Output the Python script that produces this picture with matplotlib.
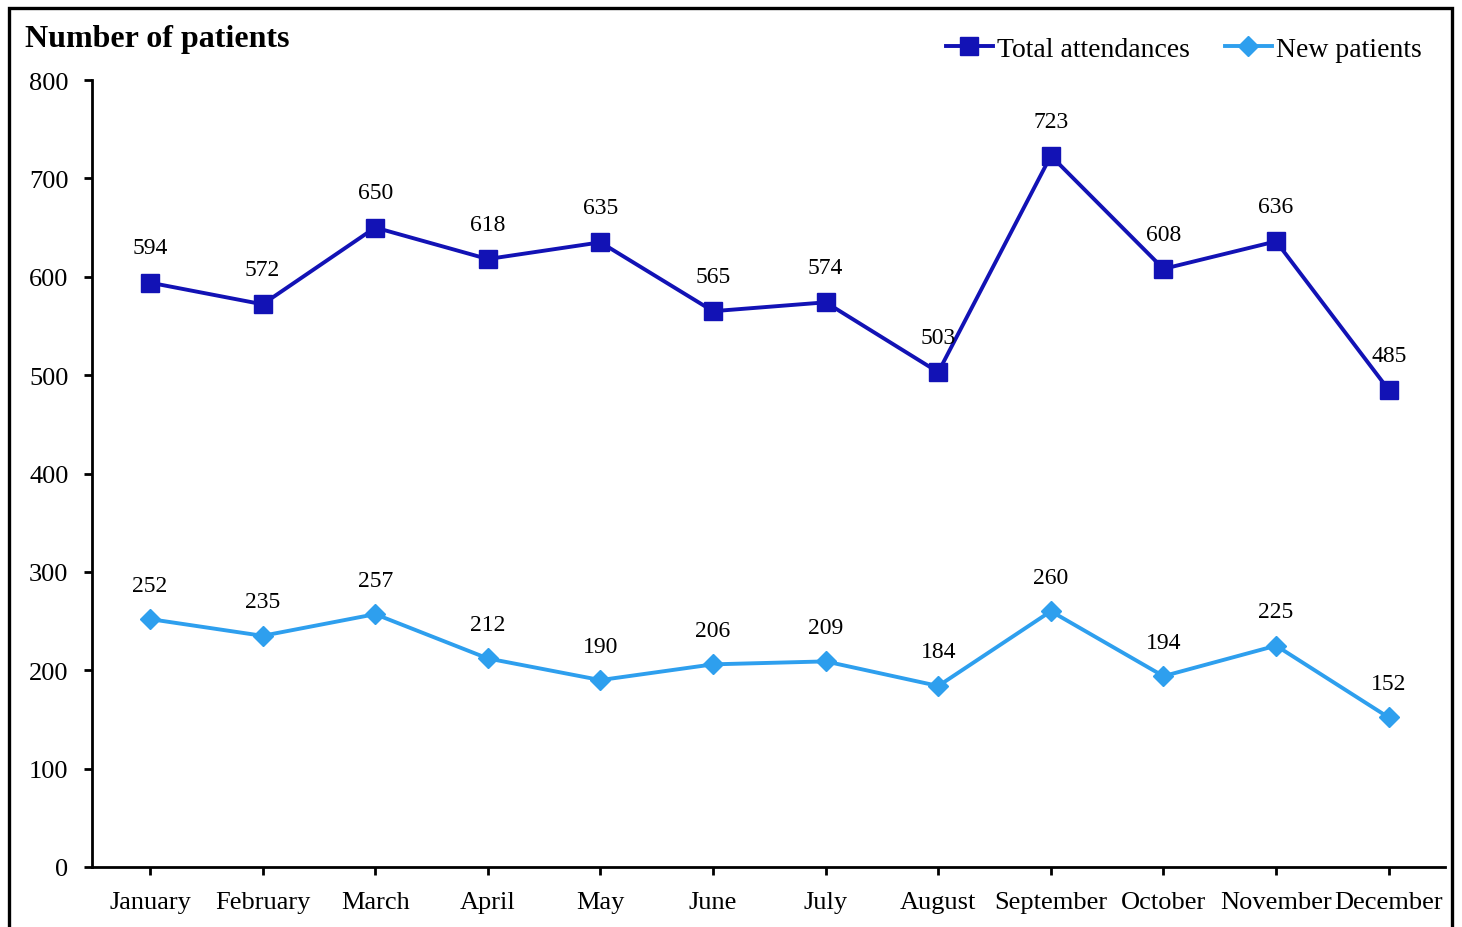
import matplotlib
matplotlib.use("Agg")
import matplotlib.pyplot as plt
from matplotlib.patches import Rectangle

months = ["January", "February", "March", "April", "May", "June", "July",
          "August", "September", "October", "November", "December"]
total_attendances = [594, 572, 650, 618, 635, 565, 574, 503, 723, 608, 636, 485]
new_patients = [252, 235, 257, 212, 190, 206, 209, 184, 260, 194, 225, 152]

plt.rcParams['font.family'] = ['Liberation Serif', 'DejaVu Serif']

W, H = 1462, 928
fig = plt.figure(figsize=(W / 100, H / 100), dpi=100)
ax = fig.add_axes([92 / W, 1 - 868 / H, (1445 - 92) / W, (868 - 81) / H])

dark = '#1212B5'
light = '#2E9FEE'
x = list(range(len(months)))
ax.plot(x, total_attendances, color=dark, lw=2.8, marker='s', ms=13,
        label='Total attendances', zorder=3)
ax.plot(x, new_patients, color=light, lw=2.8, marker='D', ms=10,
        label='New patients', zorder=3)

for xi, v in zip(x, total_attendances):
    ax.annotate(str(v), (xi, v), xytext=(0, 25), textcoords='offset points',
                ha='center', va='center', fontsize=17)
for xi, v in zip(x, new_patients):
    ax.annotate(str(v), (xi, v), xytext=(0, 24.5), textcoords='offset points',
                ha='center', va='center', fontsize=17)

ax.set_xlim(-0.515, 11.5)
ax.set_ylim(0, 800)
ax.set_yticks(range(0, 801, 100))
ax.set_xticks(x)
ax.set_xticklabels(months)
ax.tick_params(axis='both', labelsize=19, width=2, length=6, direction='out')
ax.tick_params(axis='x', pad=11)
ax.tick_params(axis='y', pad=11)
for s in ['top', 'right']:
    ax.spines[s].set_visible(False)
for s in ['left', 'bottom']:
    ax.spines[s].set_linewidth(2)

leg = ax.legend(loc='center right', bbox_to_anchor=(1422 / W, 1 - 50 / H),
                bbox_transform=fig.transFigure, ncol=2, frameon=False,
                fontsize=20, handlelength=1.7, handletextpad=0.15,
                columnspacing=1.25, borderpad=0, borderaxespad=0)

fig.text(25 / W, 1 - 40 / H, 'Number of patients', fontsize=23, fontweight='bold',
         ha='left', va='center')

fig.patches.append(Rectangle((8.5 / W, -0.05), (1452 - 8.5) / W, 1.05 - 8.5 / H,
                             transform=fig.transFigure, fill=False, lw=2.4,
                             edgecolor='black'))

fig.savefig('out.png', dpi=100)
